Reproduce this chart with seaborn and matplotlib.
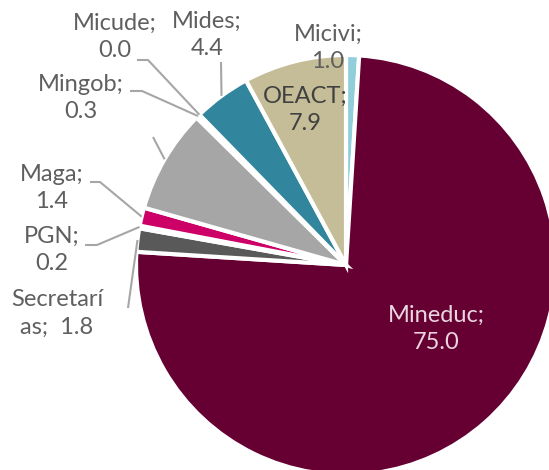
import matplotlib
matplotlib.use("Agg")
import matplotlib.pyplot as plt
import seaborn as sns
import numpy as np

# ---- data ----
categories = ["Micivi", "Mineduc", "Secretarías", "PGN", "Maga", "Otros", "Mingob", "Micude", "Mides", "OEACT"]
values = [1.0, 75.0, 1.8, 0.2, 1.4, 8.0, 0.3, 0.0, 4.4, 7.9]
label_texts = {
    "Micivi": "Micivi;\n1.0",
    "Mineduc": "Mineduc;\n75.0",
    "Secretarías": "Secretarí\nas;  1.8",
    "PGN": "PGN;\n0.2",
    "Maga": "Maga;\n1.4",
    "Otros": None,
    "Mingob": "Mingob;\n0.3",
    "Micude": "Micude;\n0.0",
    "Mides": "Mides;\n4.4",
    "OEACT": "OEACT;\n7.9",
}
colors = ["#92CDDC", "#660033", "#595959", "#7F7F7F", "#CC0066", "#A6A6A6",
          "#BFBFBF", "#D9D9D9", "#31859C", "#C4BD97"]

# ---- layout (pixel positions of labels and leader starts) ----
W, H = 549, 470
CX, CY, R = 346, 265, 210

def px(x, y):
    return ((x - CX) / R, (CY - y) / R)

label_pos = {
    "Micivi": (328, 48), "Mineduc": (436, 329), "Secretarías": (57, 313),
    "PGN": (52, 250), "Maga": (52, 188), "Mingob": (81, 98),
    "Micude": (115, 37), "Mides": (207, 35), "OEACT": (305, 110),
}
label_color = {"Mineduc": "#EAD6DF", "OEACT": "#404040"}
leaders = {  # start point, optional elbow
    "Micude": [(137, 60), (148, 60)],
    "Mingob": [(130, 91), (142, 91)],
    "Mides": [(221, 62)],
    "Otros": [(153, 137)],
    "Maga": [(90, 182), (100, 182)],
    "PGN": [(85, 245), (97, 245)],
    "Secretarías": [(128, 308)],
}

sns.set_theme(style="white")
plt.rcParams["font.family"] = ["Lato", "DejaVu Sans"]

fig = plt.figure(figsize=(W / 100, H / 100), dpi=100)
ax = fig.add_axes([0, 0, 1, 1])
wedges, _ = ax.pie(values, colors=colors, startangle=90, counterclock=False,
                   radius=1.0, center=(0, 0),
                   wedgeprops=dict(edgecolor="white", linewidth=3))
ax.set_xlim((0 - CX) / R, (W - CX) / R)
ax.set_ylim((CY - H) / R, CY / R)
ax.set_aspect("equal")
ax.axis("off")

for cat, w in zip(categories, wedges):
    if cat in leaders:
        mid = np.deg2rad((w.theta1 + w.theta2) / 2)
        end = (np.cos(mid) * 1.0, np.sin(mid) * 1.0)
        pts = [px(*p) for p in leaders[cat]] + [end]
        xs, ys = zip(*pts)
        ax.plot(xs, ys, color="#A6A6A6", lw=1.5, solid_capstyle="butt")
    txt = label_texts[cat]
    if txt and cat in label_pos:
        x, y = px(*label_pos[cat])
        ax.text(x, y, txt, ha="center", va="center", fontsize=17,
                fontweight="normal", color=label_color.get(cat, "#5F5F5F"),
                linespacing=1.4)

fig.savefig("out.png", dpi=100)
